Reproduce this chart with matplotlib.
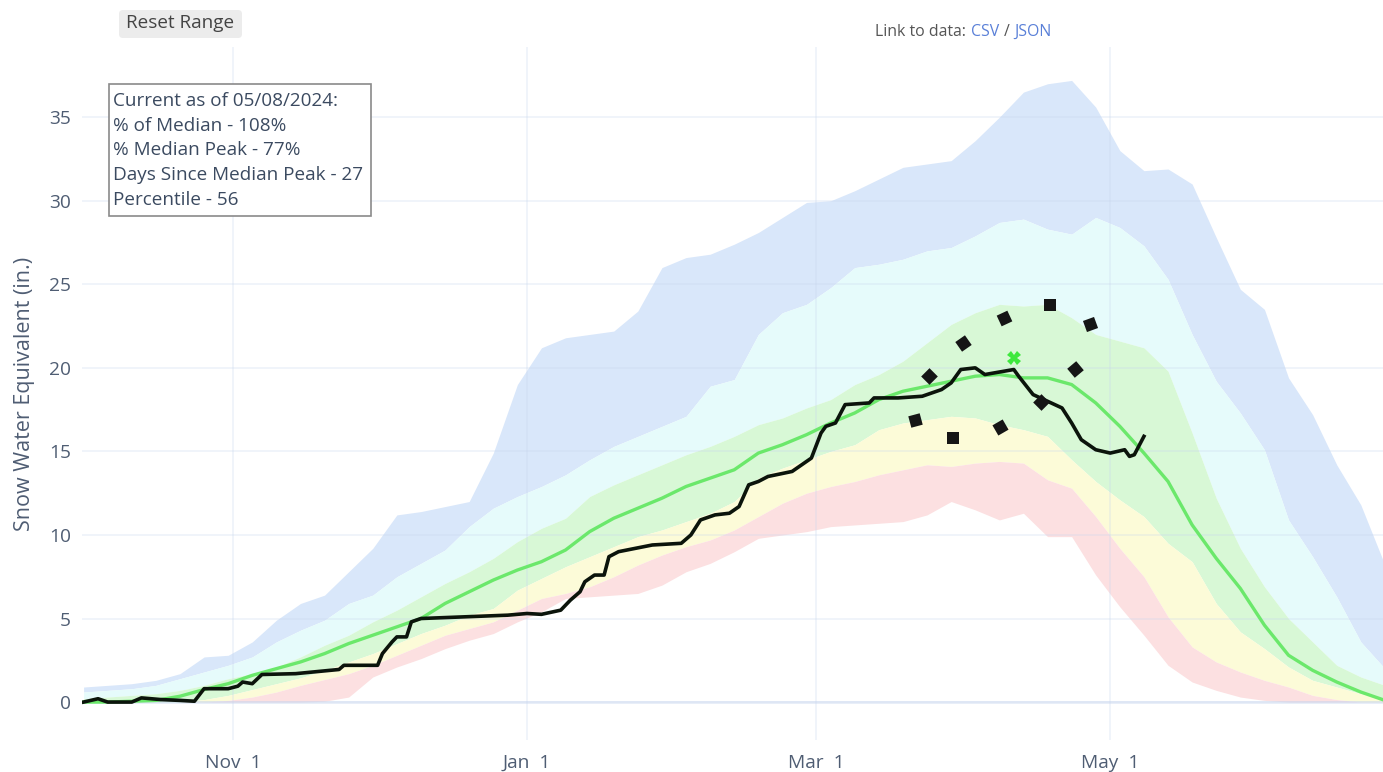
import numpy as np
import matplotlib
matplotlib.use('Agg')
import matplotlib.pyplot as plt
from matplotlib.patches import FancyBboxPatch, Rectangle

plt.rcParams['font.family'] = ['Open Sans', 'DejaVu Sans']

# water year 2024, day 0 = Oct 1 2023
start = np.datetime64('2023-10-01')

# statistics, sampled every 5 days (inches SWE)
days = np.arange(0, 271, 5)
swe_max = [0.9, 1.0, 1.1, 1.3, 1.7, 2.7, 2.8, 3.6, 4.9, 5.9,
           6.4, 7.8, 9.2, 11.2, 11.4, 11.7, 12.0, 14.9, 19.0, 21.2,
           21.8, 22.0, 22.2, 23.4, 26.0, 26.6, 26.8, 27.4, 28.1, 29.0,
           29.9, 30.0, 30.6, 31.3, 32.0, 32.2, 32.4, 33.6, 35.0, 36.5,
           37.0, 37.2, 35.6, 33.0, 31.8, 31.9, 31.0, 27.8, 24.7, 23.5,
           19.4, 17.2, 14.2, 11.8, 8.2]
swe_p90 = [0.6, 0.7, 0.8, 1.0, 1.4, 1.8, 2.2, 2.7, 3.6, 4.3,
           4.9, 5.9, 6.4, 7.5, 8.3, 9.1, 10.5, 11.6, 12.3, 12.9,
           13.6, 14.5, 15.3, 15.9, 16.5, 17.1, 18.9, 19.3, 22.0, 23.3,
           23.8, 24.8, 26.0, 26.2, 26.5, 27.0, 27.2, 27.9, 28.7, 28.9,
           28.3, 28.0, 29.0, 28.4, 27.3, 25.3, 22.0, 19.2, 17.3, 15.1,
           10.9, 8.7, 6.3, 3.6, 2.0]
swe_p70 = [0.2, 0.3, 0.4, 0.5, 0.7, 1.0, 1.4, 1.7, 2.1, 2.7,
           3.4, 4.0, 4.8, 5.5, 6.3, 7.1, 7.8, 8.6, 9.6, 10.4,
           11.0, 12.3, 13.0, 13.6, 14.2, 14.8, 15.3, 15.9, 16.6, 17.0,
           17.6, 18.1, 19.0, 19.6, 20.4, 21.5, 22.6, 23.3, 23.8, 23.7,
           23.8, 23.0, 22.0, 21.6, 21.2, 19.8, 16.1, 12.2, 9.2, 6.9,
           5.0, 3.6, 2.2, 1.5, 1.0]
swe_median = [0.0, 0.0, 0.05, 0.1, 0.35, 0.75, 1.1, 1.6, 2.0, 2.4,
              2.9, 3.5, 4.0, 4.5, 5.0, 5.9, 6.6, 7.3, 7.9, 8.4,
              9.1, 10.2, 11.0, 11.6, 12.2, 12.9, 13.4, 13.9, 14.9, 15.4,
              16.0, 16.7, 17.3, 18.1, 18.6, 18.9, 19.2, 19.5, 19.6, 19.4,
              19.4, 19.0, 17.9, 16.5, 14.9, 13.2, 10.6, 8.6, 6.8, 4.6,
              2.8, 1.9, 1.2, 0.6, 0.1]
swe_p30 = [0.0, 0.0, 0.0, 0.0, 0.0, 0.15, 0.4, 0.75, 1.1, 1.45,
           1.9, 2.4, 2.9, 3.5, 4.1, 4.6, 5.2, 5.6, 6.7, 7.4,
           8.1, 8.7, 9.3, 9.9, 10.3, 10.8, 11.3, 12.0, 13.4, 14.0,
           14.5, 15.0, 15.4, 16.3, 16.7, 16.9, 17.1, 17.0, 16.6, 16.3,
           15.9, 14.5, 13.2, 12.1, 11.1, 9.5, 8.4, 5.9, 4.2, 3.2,
           2.1, 1.3, 0.9, 0.5, 0.2]
swe_p10 = [0.0, 0.0, 0.0, 0.0, 0.0, 0.0, 0.1, 0.3, 0.6, 1.0,
           1.35, 1.7, 2.2, 2.8, 3.4, 4.0, 4.4, 4.8, 5.5, 6.2,
           6.5, 6.9, 7.5, 8.2, 8.8, 9.3, 9.7, 10.3, 11.1, 11.9,
           12.5, 12.9, 13.2, 13.6, 13.9, 14.2, 14.1, 14.3, 14.4, 14.3,
           13.3, 12.8, 11.1, 9.2, 7.5, 5.1, 3.3, 2.4, 1.8, 1.3,
           0.9, 0.4, 0.15, 0.0, 0.0]
swe_min = [0.0, 0.0, 0.0, 0.0, 0.0, 0.0, 0.0, 0.0, 0.0, 0.0,
           0.05, 0.3, 1.5, 2.1, 2.6, 3.2, 3.7, 4.1, 4.8, 5.4,
           6.2, 6.3, 6.4, 6.5, 7.0, 7.8, 8.3, 9.0, 9.8, 10.0,
           10.2, 10.5, 10.6, 10.7, 10.8, 11.2, 12.0, 11.5, 10.9, 11.3,
           9.9, 9.9, 7.6, 5.7, 4.0, 2.2, 1.2, 0.7, 0.3, 0.1,
           0.0, 0.0, 0.0, 0.0, 0.0]

# current water year
cur_days = [0, 3, 5, 10, 12, 16, 20, 23, 25, 30, 32, 33, 35, 37, 44, 53, 54, 61, 62, 64,
            65, 67, 68, 70, 79, 88, 92, 95, 99, 101, 103, 104, 106, 108, 109, 111, 118, 124, 126, 128,
            131, 134, 136, 138, 140, 142, 147, 149, 151, 153, 154, 156, 158, 163, 164, 169, 174, 178, 180, 182,
            185, 187, 191, 193, 194, 197, 200, 203, 205, 207, 210, 213, 216, 217, 218, 220]
cur_swe = [0.0, 0.2, 0.0, 0.0, 0.25, 0.15, 0.1, 0.05, 0.8, 0.8, 0.95, 1.2, 1.1, 1.65, 1.7, 1.95, 2.2, 2.2, 2.9, 3.6,
           3.9, 3.9, 4.8, 5.0, 5.1, 5.2, 5.3, 5.25, 5.5, 6.1, 6.6, 7.2, 7.6, 7.6, 8.7, 9.0, 9.4, 9.5, 10.0, 10.9,
           11.2, 11.3, 11.7, 13.0, 13.2, 13.5, 13.8, 14.2, 14.6, 16.1, 16.5, 16.7, 17.8, 17.9, 18.2, 18.2, 18.3, 18.7, 19.1, 19.9,
           20.0, 19.6, 19.8, 19.9, 19.5, 18.4, 18.0, 17.6, 16.7, 15.7, 15.1, 14.9, 15.1, 14.7, 14.8, 15.9]

peak_date = np.datetime64('2024-04-11')
peak_swe = 20.6

tick_dates = np.array(['2023-11-01', '2024-01-01', '2024-03-01', '2024-05-01'], dtype='datetime64[D]')
tick_labels = ['Nov  1', 'Jan  1', 'Mar  1', 'May  1']

info_lines = ['Current as of 05/08/2024:', '% of Median - 108%', '% Median Peak - 77%',
              'Days Since Median Peak - 27', 'Percentile - 56']

W, H = 1383, 772
fig = plt.figure(figsize=(W / 100, H / 100), dpi=100)
ax = fig.add_axes([82 / W, 1 - 740 / H, (W - 82) / W, (740 - 47) / H])

ax.fill_between(days, swe_p90, swe_max, color='#d9e7fa', lw=0, zorder=1)
ax.fill_between(days, swe_p70, swe_p90, color='#e6fbfb', lw=0, zorder=1)
ax.fill_between(days, swe_p30, swe_p70, color='#d8f8d6', lw=0, zorder=1)
ax.fill_between(days, swe_p10, swe_p30, color='#fcfbd8', lw=0, zorder=1)
ax.fill_between(days, swe_min, swe_p10, color='#fce0e1', lw=0, zorder=1)

ax.plot(days, swe_median, color='#6be86b', lw=2.4, zorder=3)
ax.plot(cur_days, cur_swe, color='#0b140b', lw=2.6, zorder=4, solid_joinstyle='round')
ax.plot([(peak_date - start).astype(int)], [peak_swe], marker='X', color='#3ee83e',
        ms=10, mew=0, ls='none', zorder=5)

ax.set_xlim(-0.33, 269.6)
ax.set_ylim(-2.27, 39.2)
ax.set_yticks(np.arange(0, 36, 5))
ax.set_xticks((tick_dates - start).astype(int))
ax.set_xticklabels(tick_labels)
ax.grid(True, color='#c8d6ee', alpha=0.35, lw=1.1, zorder=2)
ax.set_axisbelow(False)
ax.axhline(0, color='#c8d6ee', alpha=0.45, lw=2, zorder=2)
for s in ax.spines.values():
    s.set_visible(False)
ax.tick_params(length=0, labelsize=13.8, labelcolor='#4f5d73')
ax.tick_params(axis='y', pad=8)
ax.tick_params(axis='x', pad=10)
ax.set_ylabel('Snow Water Equivalent (in.)', fontsize=15.5, color='#4f5d73', labelpad=10)

# overlay in pixel coordinates for the page decorations
ov = fig.add_axes([0, 0, 1, 1])
ov.set_xlim(0, W)
ov.set_ylim(H, 0)
ov.axis('off')

ov.add_patch(FancyBboxPatch((119, 10), 123, 28, boxstyle='round,pad=0,rounding_size=4',
                            fc='#ececec', ec='none'))
ov.text(180, 23, 'Reset Range', ha='center', va='center', fontsize=13.6, color='#444444')

ov.text(875, 32, 'Link to data:', ha='left', va='center', fontsize=11.4, color='#555555')
ov.text(971, 32, 'CSV', ha='left', va='center', fontsize=11.4, color='#5a80d8')
ov.text(1004, 32, '/', ha='left', va='center', fontsize=11.4, color='#555555')
ov.text(1014, 32, 'JSON', ha='left', va='center', fontsize=11.4, color='#5a80d8')

ov.add_patch(Rectangle((108.5, 83.5), 262, 132, fc='white', ec='#8a8a8a', lw=1.2, zorder=3))
for i, line in enumerate(info_lines):
    ov.text(113, 101 + i * 24.7, line, ha='left', va='center', fontsize=13.6, color='#3b4a60', zorder=4)

# loading spinner drawn over the plot
spin_x = [1050, 1090, 1075, 1041, 1000, 953, 915, 929, 963, 1004]
spin_y = [305, 324, 369, 402, 427, 438, 420, 376, 343, 318]
spin_rot = [0, 20, 40, 45, 30, 0, 15, 45, 35, 25]
for x, y, r in zip(spin_x, spin_y, spin_rot):
    ov.plot(x, y, marker=(4, 0, 45 + r), ms=12, color='#151515', mew=0, ls='none', zorder=6)

fig.savefig('out.png', dpi=100)
